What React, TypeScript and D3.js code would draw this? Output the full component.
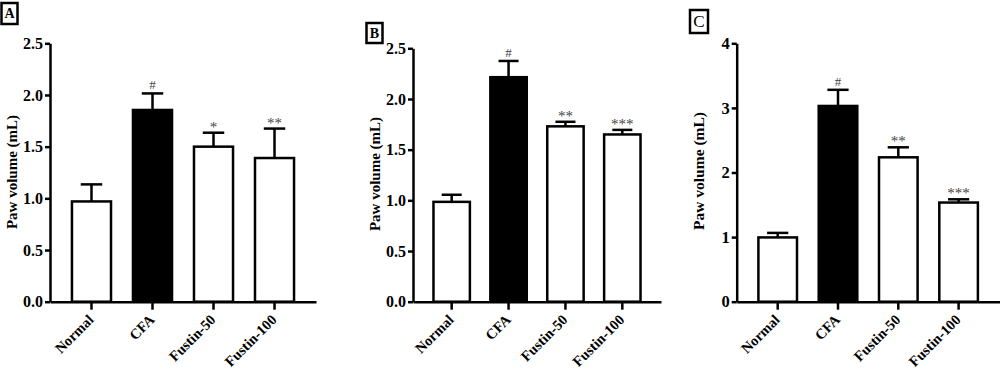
import React, { useRef, useEffect } from 'react'
import * as d3 from 'd3'

const categories = ['Normal', 'CFA', 'Fustin-50', 'Fustin-100']

const meanA = [0.97, 1.855, 1.5, 1.39]
const errA = [0.165, 0.16, 0.135, 0.285]
const sigA = ['', '#', '*', '**']

const meanB = [0.985, 2.215, 1.73, 1.65]
const errB = [0.07, 0.16, 0.045, 0.045]
const sigB = ['', '#', '**', '***']

const meanC = [0.995, 3.03, 2.235, 1.535]
const errC = [0.07, 0.25, 0.155, 0.05]
const sigC = ['', '#', '**', '***']

const ticksAB = [0, 0.5, 1, 1.5, 2, 2.5]
const ticksC = [0, 1, 2, 3, 4]

const FONT = '"Liberation Serif", "Times New Roman", serif'

type Panel = {
  letter: string
  mean: number[]
  err: number[]
  sig: string[]
  ticks: number[]
  fmt: (d: number) => string
  yMax: number
  x0: number
  x1: number
  yTop: number
  box: [number, number, number, number]
  labelPos: [number, number]
  fontSize: number
}

const panels: Panel[] = [
  {
    letter: 'A', mean: meanA, err: errA, sig: sigA, ticks: ticksAB, fmt: d3.format('.1f'), yMax: 2.5,
    x0: 50, x1: 316, yTop: 43.3, box: [1.5, 3, 16, 21], labelPos: [12, 172], fontSize: 16,
  },
  {
    letter: 'B', mean: meanB, err: errB, sig: sigB, ticks: ticksAB, fmt: d3.format('.1f'), yMax: 2.5,
    x0: 413, x1: 661, yTop: 48.3, box: [366.5, 23, 16, 20], labelPos: [375, 174], fontSize: 16,
  },
  {
    letter: 'C', mean: meanC, err: errC, sig: sigC, ticks: ticksC, fmt: d3.format('d'), yMax: 4,
    x0: 736.7, x1: 999.6, yTop: 43.3, box: [690, 10, 18, 23], labelPos: [698, 171], fontSize: 16.5,
  },
]

const App = () => {
  const svgRef = useRef<SVGSVGElement>(null)

  useEffect(() => {
    const svg = d3.select(svgRef.current)
    svg.selectAll('*').remove()

    const y0 = 301.7

    panels.forEach(p => {
      const g = svg.append('g')

      const x = d3.scaleBand().domain(categories).range([p.x0, p.x1]).padding(0.36)
      const y = d3.scaleLinear().domain([0, p.yMax]).range([y0, p.yTop])

      // bars
      g.selectAll('.bar')
        .data(p.mean)
        .enter()
        .append('rect')
        .attr('x', (d, i) => x(categories[i])!)
        .attr('y', d => y(d))
        .attr('width', x.bandwidth())
        .attr('height', d => y0 - y(d))
        .attr('fill', (d, i) => (i === 1 ? '#000' : '#fff'))
        .attr('stroke', '#000')
        .attr('stroke-width', 2.5)

      // error bars (upper only)
      const cap = x.bandwidth() * 0.55
      p.mean.forEach((m, i) => {
        const cx = x(categories[i])! + x.bandwidth() / 2
        const top = y(m + p.err[i])
        g.append('line')
          .attr('x1', cx).attr('x2', cx)
          .attr('y1', y(m)).attr('y2', top)
          .attr('stroke', '#000').attr('stroke-width', 2.5)
        g.append('line')
          .attr('x1', cx - cap / 2).attr('x2', cx + cap / 2)
          .attr('y1', top).attr('y2', top)
          .attr('stroke', '#000').attr('stroke-width', 2.5)
        if (p.sig[i]) {
          g.append('text')
            .attr('x', cx)
            .attr('y', top - (p.sig[i] === '#' ? 4 : 1))
            .attr('text-anchor', 'middle')
            .attr('font-family', FONT)
            .attr('font-size', p.sig[i] === '#' ? 13 : 15)
            .attr('fill', '#444')
            .text(p.sig[i])
        }
      })

      // y axis
      const yAxis = g.append('g')
        .attr('transform', `translate(${p.x0}, 0)`)
        .call(d3.axisLeft(y).tickValues(p.ticks).tickFormat(p.fmt as any).tickSize(5).tickSizeOuter(0).tickPadding(2))
      yAxis.select('.domain').attr('stroke-width', 2.5)
      yAxis.selectAll('.tick line').attr('stroke-width', 2.5)
      yAxis.selectAll('.tick text')
        .attr('font-family', FONT)
        .attr('font-weight', 'bold')
        .attr('font-size', p.fontSize)
        .attr('fill', '#000')

      // x axis
      const xAxis = g.append('g')
        .attr('transform', `translate(0, ${y0})`)
        .call(d3.axisBottom(x).tickSize(8).tickSizeOuter(0).tickFormat(() => ''))
      xAxis.select('.domain').attr('stroke-width', 2.5)
      xAxis.selectAll('.tick line').attr('stroke-width', 2.5)

      // rotated category labels
      categories.forEach(c => {
        const cx = x(c)! + x.bandwidth() / 2
        g.append('text')
          .attr('transform', `translate(${cx + 3}, ${y0 + 19}) rotate(-45)`)
          .attr('text-anchor', 'end')
          .attr('font-family', FONT)
          .attr('font-weight', 'bold')
          .attr('font-size', 14.5)
          .text(c)
      })

      // y label
      g.append('text')
        .attr('transform', `translate(${p.labelPos[0]}, ${p.labelPos[1]}) rotate(-90)`)
        .attr('text-anchor', 'middle')
        .attr('dominant-baseline', 'central')
        .attr('font-family', FONT)
        .attr('font-weight', 'bold')
        .attr('font-size', p.fontSize - 1)
        .text('Paw volume (mL)')

      // panel letter box
      const [bx, by, bw, bh] = p.box
      g.append('rect')
        .attr('x', bx).attr('y', by).attr('width', bw).attr('height', bh)
        .attr('fill', 'none').attr('stroke', '#000').attr('stroke-width', 2.5)
      g.append('text')
        .attr('x', bx + bw / 2)
        .attr('y', by + bh / 2)
        .attr('text-anchor', 'middle')
        .attr('dominant-baseline', 'central')
        .attr('font-family', FONT)
        .attr('font-weight', p.letter === 'C' ? 'normal' : 'bold')
        .attr('font-size', p.letter === 'C' ? 17 : 14)
        .text(p.letter)
    })
  }, [])

  return (
    <svg
      ref={svgRef}
      width={1000}
      height={374}
      style={{ position: 'absolute', left: 0, top: 0, background: '#fff' }}
    ></svg>
  )
}

export default App
